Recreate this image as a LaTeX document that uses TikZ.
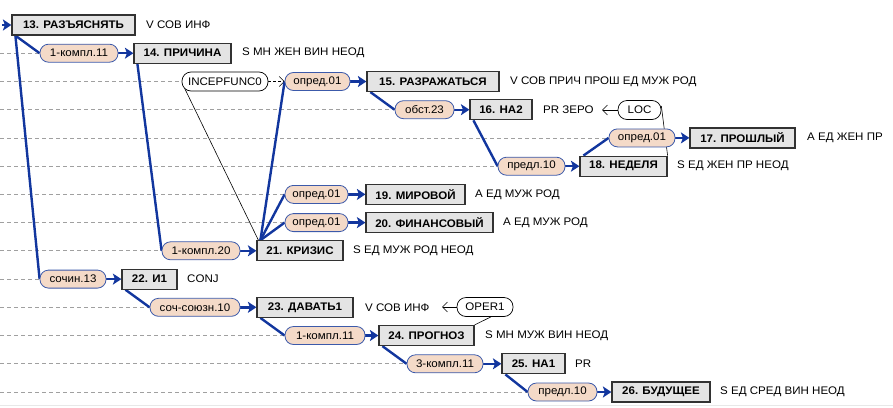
\documentclass[tikz,border=0pt]{standalone}
\usepackage{fontspec}
\setmainfont{Liberation Sans}[FakeStretch=1.05]
\usetikzlibrary{arrows.meta,backgrounds}
\definecolor{linkblue}{RGB}{18,54,158}
\definecolor{pillfill}{RGB}{244,218,200}
\definecolor{pillline}{RGB}{60,90,170}
\definecolor{boxfill}{RGB}{228,228,228}
\definecolor{boxline}{RGB}{50,50,50}
\definecolor{dashgray}{RGB}{160,160,160}
\definecolor{edgegray}{RGB}{232,232,232}
\begin{document}
\begin{tikzpicture}[x=1pt,y=-1pt,
  txt/.style={font=\fontsize{11}{13}\selectfont},
  wordbox/.style={draw=boxline, line width=1.2pt, fill=boxfill, minimum height=20pt, inner sep=1pt, font=\fontsize{11}{13}\selectfont\bfseries},
  relpill/.style={draw=pillline, line width=0.8pt, fill=pillfill, rounded corners=8.5pt, minimum height=18pt, inner sep=1pt, txt},
  funcpill/.style={draw=black, line width=0.7pt, fill=white, rounded corners=9pt, minimum height=19pt, inner sep=1pt, txt},
  attr/.style={anchor=west, inner sep=0pt, txt},
  link/.style={draw=linkblue, line width=2.4pt},
  linkarrow/.style={link, -{Stealth[length=8.5pt,width=11pt,inset=2pt]}},
  guide/.style={draw=dashgray, line width=0.7pt, dash pattern=on 4pt off 3pt},
  thinlink/.style={draw=black, line width=0.6pt},
  openarrow/.style={thinlink, -{Straight Barb[length=5pt,width=10pt]}}
]
\useasboundingbox (0,0) rectangle (893,407);

% word boxes
\node[wordbox, minimum width=123pt] (n13) at (73.5,25) {13. РАЗЪЯСНЯТЬ};
\node[wordbox, minimum width=97pt]  (n14) at (182.5,53.2) {14. ПРИЧИНА};
\node[wordbox, minimum width=132pt] (n15) at (433,81.5) {15. РАЗРАЖАТЬСЯ};
\node[wordbox, minimum width=62pt]  (n16) at (501,109.7) {16. НА2};
\node[wordbox, minimum width=105pt] (n17) at (742.5,137.9) {17. ПРОШЛЫЙ};
\node[wordbox, minimum width=87pt]  (n18) at (623.5,166.2) {18. НЕДЕЛЯ};
\node[wordbox, minimum width=99pt]  (n19) at (415.5,194.4) {19. МИРОВОЙ};
\node[wordbox, minimum width=127pt] (n20) at (429.5,222.6) {20. ФИНАНСОВЫЙ};
\node[wordbox, minimum width=86pt]  (n21) at (300,250.8) {21. КРИЗИС};
\node[wordbox, minimum width=55pt]  (n22) at (149.5,279.1) {22. И1};
\node[wordbox, minimum width=96pt]  (n23) at (305,307.3) {23. ДАВАТЬ1};
\node[wordbox, minimum width=95pt]  (n24) at (426.5,335.5) {24. ПРОГНОЗ};
\node[wordbox, minimum width=63pt]  (n25) at (533.5,363.8) {25. НА1};
\node[wordbox, minimum width=98pt]  (n26) at (661,392) {26. БУДУЩЕЕ};

% relation labels
\node[relpill, minimum width=78pt] (L14) at (79,53.2) {1-компл.11};
\node[relpill, minimum width=65pt] (L15) at (317.5,81.5) {опред.01};
\node[relpill, minimum width=59pt] (L16) at (424.5,109.7) {обст.23};
\node[relpill, minimum width=66pt] (L17) at (642,137.9) {опред.01};
\node[relpill, minimum width=67pt] (L18) at (531.5,166.2) {предл.10};
\node[relpill, minimum width=63pt] (L19) at (316.5,194.4) {опред.01};
\node[relpill, minimum width=63pt] (L20) at (316.5,222.6) {опред.01};
\node[relpill, minimum width=78pt] (L21) at (201,250.8) {1-компл.20};
\node[relpill, minimum width=66pt] (L22) at (73,279.1) {сочин.13};
\node[relpill, minimum width=90pt] (L23) at (195,307.3) {соч-союзн.10};
\node[relpill, minimum width=80pt] (L24) at (325,335.5) {1-компл.11};
\node[relpill, minimum width=76pt] (L25) at (445,363.8) {3-компл.11};
\node[relpill, minimum width=69pt] (L26) at (562.5,392) {предл.10};

% lexical functions
\node[funcpill, minimum width=86pt] (INC) at (225,81.5) {INCEPFUNC0};
\node[funcpill, minimum width=43pt] (LOC) at (639.5,110) {LOC};
\node[funcpill, minimum width=56pt] (OPER) at (485,307) {OPER1};

% grammatical attributes
\node[attr] (a13) at (146,25) {V СОВ ИНФ};
\node[attr] (a14) at (242,53.2) {S МН ЖЕН ВИН НЕОД};
\node[attr] (a15) at (510,81.5) {V СОВ ПРИЧ ПРОШ ЕД МУЖ РОД};
\node[attr] (a16) at (543,109.7) {PR ЗЕРО};
\node[attr] (a17) at (807,137.9) {A ЕД ЖЕН ПР};
\node[attr] (a18) at (677,166.2) {S ЕД ЖЕН ПР НЕОД};
\node[attr] (a19) at (475,194.4) {A ЕД МУЖ РОД};
\node[attr] (a20) at (503,222.6) {A ЕД МУЖ РОД};
\node[attr] (a21) at (353,250.8) {S ЕД МУЖ РОД НЕОД};
\node[attr] (a22) at (187,279.1) {CONJ};
\node[attr] (a23) at (365,307.3) {V СОВ ИНФ};
\node[attr] (a24) at (485,335.5) {S МН МУЖ ВИН НЕОД};
\node[attr] (a25) at (575,363.8) {PR};
\node[attr] (a26) at (720,392) {S ЕД СРЕД ВИН НЕОД};

% free ends
\coordinate (start) at (2,25);
\coordinate (locTip) at (602,110);
\coordinate (operTip) at (442,307);
\coordinate (g1) at (0,53.2);
\coordinate (g2) at (0,81.5);
\coordinate (g3) at (0,109.7);
\coordinate (g4) at (0,137.9);
\coordinate (g5) at (0,166.2);
\coordinate (g6) at (0,194.4);
\coordinate (g7) at (0,222.6);
\coordinate (g8) at (0,250.8);
\coordinate (g9) at (0,279.1);
\coordinate (g10) at (0,307.3);
\coordinate (g11) at (0,335.5);
\coordinate (g12) at (0,363.8);
\coordinate (g13) at (0,392);
\coordinate (bl) at (0,405.5);
\coordinate (br) at (893,405.5);

\begin{scope}[on background layer]
  \draw[edgegray, line width=1pt] (bl) -- (br);
  % guide lines
  \draw[guide] (g1) -- (L14.west);
  \draw[guide] (g2) -- (INC.west);
  \draw[guide] (g3) -- (L16.west);
  \draw[guide] (g4) -- (L17.west);
  \draw[guide] (g5) -- (L18.west);
  \draw[guide] (g6) -- (L19.west);
  \draw[guide] (g7) -- (L20.west);
  \draw[guide] (g8) -- (L21.west);
  \draw[guide] (g9) -- (L22.west);
  \draw[guide] (g10) -- (L23.west);
  \draw[guide] (g11) -- (L24.west);
  \draw[guide] (g12) -- (L25.west);
  \draw[guide] (g13) -- (L26.west);
  % lexical function links
  \draw[thinlink] ([shift={(3,-3)}]INC.south west) -- ([xshift=2pt]n21.north west);
  \draw[thinlink, dash pattern=on 3pt off 2pt, -{Straight Barb[length=5pt,width=10pt]}] (INC.east) -- (L15.west);
  \draw[openarrow] (LOC.west) -- (locTip);
  \draw[thinlink] ([yshift=4pt]LOC.east) -- (n18.north east);
  \draw[openarrow] (OPER.west) -- (operTip);
  \draw[thinlink] ([xshift=6pt]OPER.south) -- (n24.north east);
  % dependency links
  \draw[link] ([xshift=4pt]n13.south west) -- (L14.west);
  \draw[link] ([xshift=4pt]n13.south west) -- (L22.west);
  \draw[link] ([xshift=4pt]n14.south west) -- (L21.west);
  \draw[link] ([xshift=4pt]n15.south west) -- (L16.west);
  \draw[link] ([xshift=4pt]n16.south west) -- (L18.west);
  \draw[link] ([xshift=4pt]n18.north west) -- (L17.west);
  \draw[link] ([xshift=4pt]n21.north west) -- (L15.west);
  \draw[link] ([xshift=4pt]n21.north west) -- (L19.west);
  \draw[link] ([xshift=4pt]n21.north west) -- (L20.west);
  \draw[link] ([xshift=4pt]n22.south west) -- (L23.west);
  \draw[link] ([xshift=4pt]n23.south west) -- (L24.west);
  \draw[link] ([xshift=4pt]n24.south west) -- (L25.west);
  \draw[link] ([xshift=4pt]n25.south west) -- (L26.west);
  % label to word arrows
  \draw[linkarrow] (start) -- (n13.west);
  \draw[linkarrow] (L14.east) -- (n14.west);
  \draw[linkarrow] (L15.east) -- (n15.west);
  \draw[linkarrow] (L16.east) -- (n16.west);
  \draw[linkarrow] (L17.east) -- (n17.west);
  \draw[linkarrow] (L18.east) -- (n18.west);
  \draw[linkarrow] (L19.east) -- (n19.west);
  \draw[linkarrow] (L20.east) -- (n20.west);
  \draw[linkarrow] (L21.east) -- (n21.west);
  \draw[linkarrow] (L22.east) -- (n22.west);
  \draw[linkarrow] (L23.east) -- (n23.west);
  \draw[linkarrow] (L24.east) -- (n24.west);
  \draw[linkarrow] (L25.east) -- (n25.west);
  \draw[linkarrow] (L26.east) -- (n26.west);
\end{scope}
\end{tikzpicture}
\end{document}
